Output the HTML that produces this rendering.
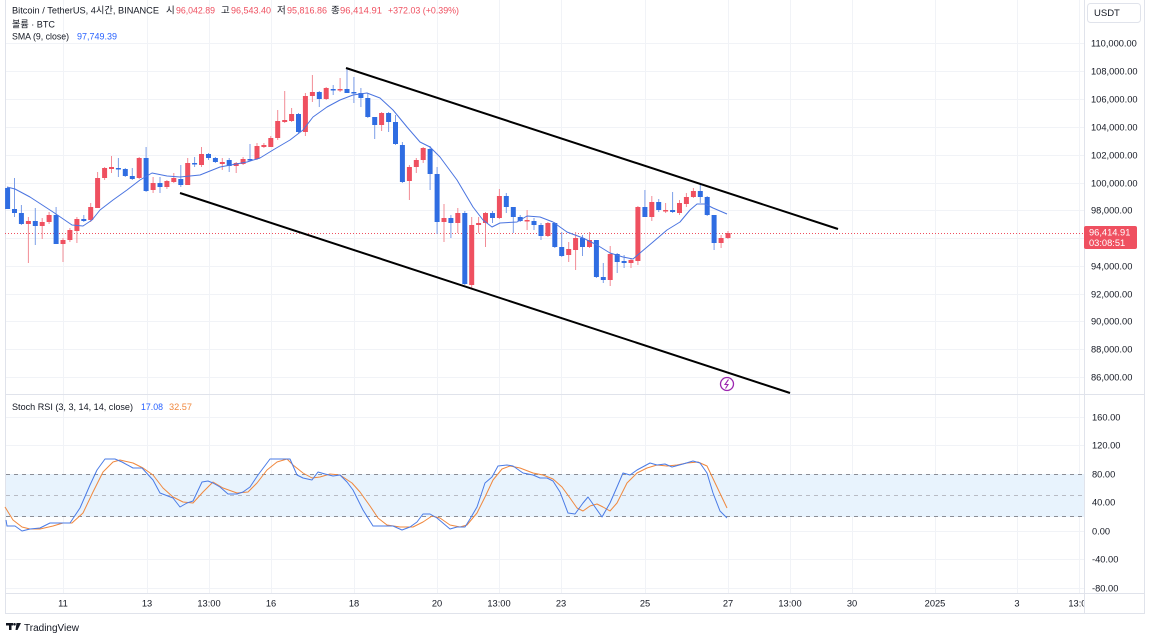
<!DOCTYPE html>
<html><head><meta charset="utf-8"><style>
html,body{margin:0;padding:0;background:#fff;}
svg{display:block;}
text{font-family:"Liberation Sans","Noto Sans CJK KR",sans-serif;}
</style></head><body>
<svg width="1151" height="633" viewBox="0 0 1151 633" xmlns="http://www.w3.org/2000/svg">
<defs>
<clipPath id="cm"><rect x="5" y="0" width="1079" height="394"/></clipPath>
<clipPath id="ct"><rect x="5" y="594" width="1079" height="19"/></clipPath>
</defs>
<rect width="1151" height="633" fill="#fff"/>
<!-- grid -->
<g stroke="#f1f3f7" stroke-width="1">
<path d="M5 43.5H1084M5 71.5H1084M5 99.5H1084M5 127.5H1084M5 155.5H1084M5 183.5H1084M5 210.5H1084M5 238.5H1084M5 266.5H1084M5 294.5H1084M5 321.5H1084M5 349.5H1084M5 377.5H1084"/>
<path d="M5 417.5H1084M5 445.5H1084M5 531.5H1084M5 559.5H1084M5 588.5H1084"/>
<path d="M63.5 0V593M147.5 0V593M209.5 0V593M271.5 0V593M354.5 0V593M437.5 0V593M499.5 0V593M561.5 0V593M645.5 0V593M728.5 0V593M790.5 0V593M852.5 0V593M935.5 0V593M1017.5 0V593M1079.5 0V593"/>
</g>
<!-- frame -->
<g stroke="#e0e3eb" stroke-width="1" fill="none">
<path d="M5.5 0V613.5H1144.5V0"/>
<path d="M1084.5 0V613.5"/>
<path d="M5 394.5H1144"/>
<path d="M5 593.5H1144"/>
</g>
<!-- stoch band -->
<rect x="6" y="474" width="1078" height="43" fill="#e8f3fd"/>
<g stroke="#8a8d96" stroke-width="1" stroke-dasharray="4,4">
<path d="M6 474.5H1084M6 516.5H1084"/>
</g>
<path d="M6 495.5H1084" stroke="#b8bbc4" stroke-width="1" stroke-dasharray="4,4"/>
<!-- current price line -->
<path d="M5 233.5H1084" stroke="#ef4f5f" stroke-width="1" stroke-dasharray="1,2"/>
<g clip-path="url(#cm)">
<!-- wicks -->
<path fill="none" stroke="#f28c96" stroke-width="1" d="M28.4 217V263M42.2 218V239M49.1 212V224M63 238V262M69.9 228V242M76.9 217V243M90.7 203V222M97.6 172V208M104.6 167V180M111.5 156V173M139.2 157V179M153.1 177V193M166.9 180V189M173.8 173V183M187.7 158V185M201.5 147V167M222.3 158V170M236.2 162V173M243.1 157V165M257 143V160M263.9 143V148M270.8 136V147M277.7 110V140M284.7 91V123M291.6 108V122M305.4 93V136M312.4 75V102M326.2 87V100M340.1 78V92M381.6 112V131M409.4 165V200M416.3 158V173M423.2 147V163M444 204V242M457.8 208V233M471.7 217V288M478.6 217V233M485.5 212V247M499.4 189V219M527.1 210V230M547.9 222V237M568.7 242V262M575.6 232V270M589.5 232V248M610.2 246V286M631 258V268M637.9 206V265M651.8 196V221M665.6 203V213M679.5 200V215M686.4 193V207M693.4 188V198M721.1 235V248M728 231V239"/>
<path fill="none" stroke="#7c9ee8" stroke-width="1" d="M7.6 187V209M14.5 178V217M21.4 205V225M35.3 208V245M56.1 207V244M83.8 215V222M118.4 158V177M125.3 168V177M132.3 168V180M146.1 147V192M160 177V193M180.8 165V187M194.6 157V167M208.5 153V160M215.4 157V163M229.2 158V172M250 144V160M298.5 113V133M319.3 91V107M333.2 85V95M347 68V93M353.9 77V103M360.9 88V107M367.8 93V118M374.7 117V139M388.6 112V132M395.5 115V145M402.4 142V183M430.1 146V190M437.1 167V234M450.9 215V238M464.8 211V285M492.5 211V223M506.3 193V213M513.3 207V233M520.2 215V222M534 218V230M541 223V240M554.8 222V248M561.7 232V257M582.5 235V256M596.4 240V278M603.3 263V283M617.2 253V273M624.1 255V268M644.9 190V217M658.7 199V212M672.6 192V213M700.3 183V203M707.2 196V216M714.1 215V250"/>
<!-- red bodies -->
<g fill="#ef5060">
<rect x="25.9" y="221" width="5" height="3"/><rect x="39.7" y="222" width="5" height="4"/><rect x="46.6" y="215" width="5" height="7"/><rect x="60.5" y="240" width="5" height="4"/><rect x="67.4" y="230" width="5" height="10"/><rect x="74.4" y="219" width="5" height="12"/><rect x="88.2" y="207" width="5" height="13"/><rect x="95.1" y="178" width="5" height="30"/><rect x="102.1" y="168" width="5" height="10"/><rect x="109" y="167" width="5" height="2"/><rect x="136.7" y="158" width="5" height="20"/><rect x="150.6" y="183" width="5" height="7"/><rect x="164.4" y="181" width="5" height="6"/><rect x="171.3" y="178" width="5" height="4"/><rect x="185.2" y="163" width="5" height="22"/><rect x="199" y="154" width="5" height="11"/><rect x="219.8" y="162" width="5" height="2"/><rect x="233.7" y="163" width="5" height="3"/><rect x="240.6" y="159" width="5" height="5"/><rect x="254.5" y="146" width="5" height="13"/><rect x="261.4" y="145" width="5" height="2"/><rect x="268.3" y="138" width="5" height="9"/><rect x="275.2" y="121" width="5" height="17"/><rect x="282.2" y="120" width="5" height="2"/><rect x="289.1" y="114" width="5" height="7"/><rect x="302.9" y="96" width="5" height="36"/><rect x="309.9" y="92" width="5" height="4"/><rect x="323.7" y="88" width="5" height="11"/><rect x="337.6" y="89" width="5" height="1.5"/><rect x="379.1" y="113" width="5" height="12"/><rect x="406.9" y="167" width="5" height="14"/><rect x="413.8" y="160" width="5" height="7"/><rect x="420.7" y="148" width="5" height="12"/><rect x="441.5" y="218" width="5" height="4"/><rect x="455.3" y="213" width="5" height="10"/><rect x="469.2" y="225" width="5" height="60"/><rect x="476.1" y="223" width="5" height="2"/><rect x="483" y="213" width="5" height="10"/><rect x="496.9" y="196" width="5" height="22"/><rect x="524.6" y="220" width="5" height="1.5"/><rect x="545.4" y="223" width="5" height="13"/><rect x="566.2" y="249" width="5" height="6"/><rect x="573.1" y="238" width="5" height="12"/><rect x="587" y="240" width="5" height="7"/><rect x="607.7" y="254" width="5" height="26"/><rect x="628.5" y="260" width="5" height="3"/><rect x="635.4" y="207" width="5" height="54"/><rect x="649.3" y="202" width="5" height="15"/><rect x="663.1" y="210" width="5" height="1.5"/><rect x="677" y="203" width="5" height="10"/><rect x="683.9" y="197" width="5" height="7"/><rect x="690.9" y="191" width="5" height="6"/><rect x="718.6" y="238" width="5" height="5"/><rect x="725.5" y="233" width="5" height="5"/>
</g>
<!-- blue bodies -->
<g fill="#2f6de2">
<rect x="5.1" y="188" width="5" height="21"/><rect x="12" y="209" width="5" height="4"/><rect x="18.9" y="213" width="5" height="11"/><rect x="32.8" y="221" width="5" height="5"/><rect x="53.6" y="215" width="5" height="29"/><rect x="81.3" y="219" width="5" height="2"/><rect x="115.9" y="168" width="5" height="1.5"/><rect x="122.8" y="169" width="5" height="7"/><rect x="129.8" y="176" width="5" height="3"/><rect x="143.6" y="158" width="5" height="33"/><rect x="157.5" y="183" width="5" height="4"/><rect x="178.3" y="179" width="5" height="6"/><rect x="192.1" y="163" width="5" height="1.5"/><rect x="206" y="154" width="5" height="4"/><rect x="212.9" y="158" width="5" height="4"/><rect x="226.7" y="160" width="5" height="6"/><rect x="247.5" y="159" width="5" height="1.5"/><rect x="296" y="114" width="5" height="18"/><rect x="316.8" y="92" width="5" height="7"/><rect x="330.7" y="89" width="5" height="1.5"/><rect x="344.5" y="89" width="5" height="4"/><rect x="351.4" y="92" width="5" height="1.5"/><rect x="358.4" y="93" width="5" height="5"/><rect x="365.3" y="98" width="5" height="19"/><rect x="372.2" y="117" width="5" height="8"/><rect x="386.1" y="113" width="5" height="9"/><rect x="393" y="122" width="5" height="22"/><rect x="399.9" y="145" width="5" height="37"/><rect x="427.6" y="149" width="5" height="25"/><rect x="434.6" y="174" width="5" height="48"/><rect x="448.4" y="218" width="5" height="5"/><rect x="462.3" y="213" width="5" height="71"/><rect x="490" y="213" width="5" height="5"/><rect x="503.8" y="196" width="5" height="11"/><rect x="510.8" y="207" width="5" height="10"/><rect x="517.7" y="217" width="5" height="4"/><rect x="531.5" y="221" width="5" height="4"/><rect x="538.5" y="225" width="5" height="11"/><rect x="552.3" y="223" width="5" height="24"/><rect x="559.2" y="247" width="5" height="9"/><rect x="580" y="238" width="5" height="9"/><rect x="593.9" y="240" width="5" height="37"/><rect x="600.8" y="277" width="5" height="3"/><rect x="614.7" y="254" width="5" height="8"/><rect x="621.6" y="261" width="5" height="2"/><rect x="642.4" y="207" width="5" height="10"/><rect x="656.2" y="202" width="5" height="8"/><rect x="670.1" y="210" width="5" height="2"/><rect x="697.8" y="191" width="5" height="6"/><rect x="704.7" y="197" width="5" height="18"/><rect x="711.6" y="215" width="5" height="28"/>
</g>
<!-- SMA -->
<polyline fill="none" stroke="#4a74e0" stroke-width="1" stroke-linejoin="round" points="7,187 15,189 30,197 53,212 72,225 83,226 92,220 100,210 113,200 127,190 140,180 152,173 167,176 180,177 200,175 220,167 247,162 260,158 273,150 290,140 303,130 313,117 327,107 340,100 353,95 367,93 380,98 393,110 407,127 420,142 430,147 440,157 457,180 473,207 483,220 492,227 500,223 517,222 527,216 540,217 553,222 567,232 583,238 597,245 610,253 623,257 633,259 640,253 653,242 667,230 680,222 690,210 697,204 705,204 713,208 727,214"/>
<!-- trend lines -->
<line x1="346" y1="68" x2="838" y2="229" stroke="#000" stroke-width="2"/>
<line x1="180" y1="193" x2="790" y2="393" stroke="#000" stroke-width="2"/>
</g>
<!-- lightning icon -->
<circle cx="727" cy="384" r="6.5" fill="#fff" stroke="#9c27b0" stroke-width="1.3"/>
<path d="M728.5 379.5L725 384.5H728L725.5 388.5" fill="none" stroke="#9c27b0" stroke-width="1.1"/>
<!-- stoch lines -->
<polyline fill="none" stroke="#f0883e" stroke-width="1" stroke-linejoin="round" points="5,507 13,520 22,527 30,529 40,529 53,526 63,523 72,523 83,513 93,492 103,472 113,462 120,460 133,463 143,468 153,475 163,488 173,497 183,502 193,503 203,492 213,482 223,488 237,493 248,492 257,483 267,470 277,462 287,459 293,465 303,473 312,478 320,477 330,474 340,475 352,483 360,492 370,506 378,518 387,525 400,527 413,527 423,522 432,516 440,518 450,525 460,527 467,525 477,513 485,497 493,480 502,469 510,466 520,468 533,473 543,475 553,479 562,487 570,498 577,508 583,511 590,506 597,504 603,507 610,511 617,503 627,483 637,473 647,468 657,465 667,466 677,465 687,463 698,462 707,466 717,487 727,508"/>
<polyline fill="none" stroke="#4a7be6" stroke-width="1" stroke-linejoin="round" points="6,520 7,526 15,526 22,531 30,529 40,528 50,523 60,523 70,523 80,508 90,485 97,470 105,459 115,459 122,462 133,468 142,468 153,480 160,493 173,498 180,507 187,503 193,501 202,482 208,481 213,483 220,487 228,494 237,494 243,492 250,487 258,475 270,459 278,459 290,459 297,475 303,478 312,480 318,472 325,474 333,476 340,475 347,482 353,490 363,510 373,526 383,526 393,526 402,530 410,527 417,522 423,514 430,514 437,518 450,529 457,527 465,527 470,519 477,507 485,483 492,477 498,466 507,465 513,466 523,473 533,475 540,478 547,478 553,481 560,492 568,513 575,514 583,503 588,497 595,507 602,517 610,503 617,487 623,473 630,475 637,470 650,463 657,465 665,464 672,467 683,464 693,461 700,463 707,473 713,493 720,511 727,518"/>
<!-- header -->
<g font-size="9.5" fill="#131722">
<text x="12" y="13.5" textLength="147" lengthAdjust="spacingAndGlyphs">Bitcoin / TetherUS, 4시간, BINANCE</text>
<text x="166" y="13.5">시</text><text x="176" y="13.5" fill="#ef4f5f" textLength="39" lengthAdjust="spacingAndGlyphs">96,042.89</text>
<text x="221" y="13.5">고</text><text x="231" y="13.5" fill="#ef4f5f" textLength="40" lengthAdjust="spacingAndGlyphs">96,543.40</text>
<text x="277" y="13.5">저</text><text x="287" y="13.5" fill="#ef4f5f" textLength="40" lengthAdjust="spacingAndGlyphs">95,816.86</text>
<text x="331" y="13.5">종</text><text x="340" y="13.5" fill="#ef4f5f" textLength="42" lengthAdjust="spacingAndGlyphs">96,414.91</text>
<text x="388" y="13.5" fill="#ef4f5f" textLength="71" lengthAdjust="spacingAndGlyphs">+372.03 (+0.39%)</text>
<text x="12" y="27.5" textLength="43" lengthAdjust="spacingAndGlyphs">볼륨 · BTC</text>
<text x="12" y="39.5" textLength="57" lengthAdjust="spacingAndGlyphs">SMA (9, close)</text>
<text x="77" y="39.5" fill="#2962ff" textLength="40" lengthAdjust="spacingAndGlyphs">97,749.39</text>
<text x="12" y="410" textLength="121" lengthAdjust="spacingAndGlyphs">Stoch RSI (3, 3, 14, 14, close)</text>
<text x="141" y="410" fill="#2962ff" textLength="22" lengthAdjust="spacingAndGlyphs">17.08</text>
<text x="169" y="410" fill="#f0883e" textLength="23" lengthAdjust="spacingAndGlyphs">32.57</text>
</g>
<!-- USDT box -->
<rect x="1087.5" y="3.5" width="53" height="19" rx="3" fill="#fff" stroke="#e0e3eb"/>
<text x="1094" y="16" font-size="9.5" fill="#131722">USDT</text>
<!-- price axis -->
<g font-size="9.3" fill="#131722">
<text x="1091" y="46.5">110,000.00</text>
<text x="1091" y="74.5">108,000.00</text>
<text x="1091" y="102.5">106,000.00</text>
<text x="1091" y="130.5">104,000.00</text>
<text x="1091" y="158.5">102,000.00</text>
<text x="1091" y="186.5">100,000.00</text>
<text x="1091" y="213.5">98,000.00</text>
<text x="1091" y="269.5">94,000.00</text>
<text x="1091" y="297.5">92,000.00</text>
<text x="1091" y="324.5">90,000.00</text>
<text x="1091" y="352.5">88,000.00</text>
<text x="1091" y="380.5">86,000.00</text>
<text x="1092" y="420.5">160.00</text>
<text x="1092" y="448.5">120.00</text>
<text x="1092" y="477.5">80.00</text>
<text x="1092" y="505.5">40.00</text>
<text x="1092" y="534.5">0.00</text>
<text x="1092" y="562.5">-40.00</text>
<text x="1092" y="591.5">-80.00</text>
</g>
<rect x="1084" y="226" width="53" height="23" rx="2" fill="#ef5060"/>
<text x="1089" y="235.5" font-size="9.3" fill="#fff">96,414.91</text>
<text x="1089" y="246" font-size="9.3" fill="#fff">03:08:51</text>
<!-- time axis -->
<g font-size="9.3" fill="#131722" text-anchor="middle" clip-path="url(#ct)">
<text x="63" y="606.5">11</text>
<text x="147" y="606.5">13</text>
<text x="209" y="606.5">13:00</text>
<text x="271" y="606.5">16</text>
<text x="354" y="606.5">18</text>
<text x="437" y="606.5">20</text>
<text x="499" y="606.5">13:00</text>
<text x="561" y="606.5">23</text>
<text x="645" y="606.5">25</text>
<text x="728" y="606.5">27</text>
<text x="790" y="606.5">13:00</text>
<text x="852" y="606.5">30</text>
<text x="935" y="606.5">2025</text>
<text x="1017" y="606.5">3</text>
<text x="1080" y="606.5">13:00</text>
</g>
<!-- TradingView logo -->
<g fill="#131722">
<rect x="6" y="623" width="7" height="2.5"/>
<rect x="9" y="623" width="2.5" height="7"/>
<circle cx="14.5" cy="624.3" r="1.3"/>
<path d="M16.5 623H21L17.5 630H15.5Z"/>
</g>
<text x="24" y="631" font-size="10" fill="#131722">TradingView</text>
</svg>
</body></html>
